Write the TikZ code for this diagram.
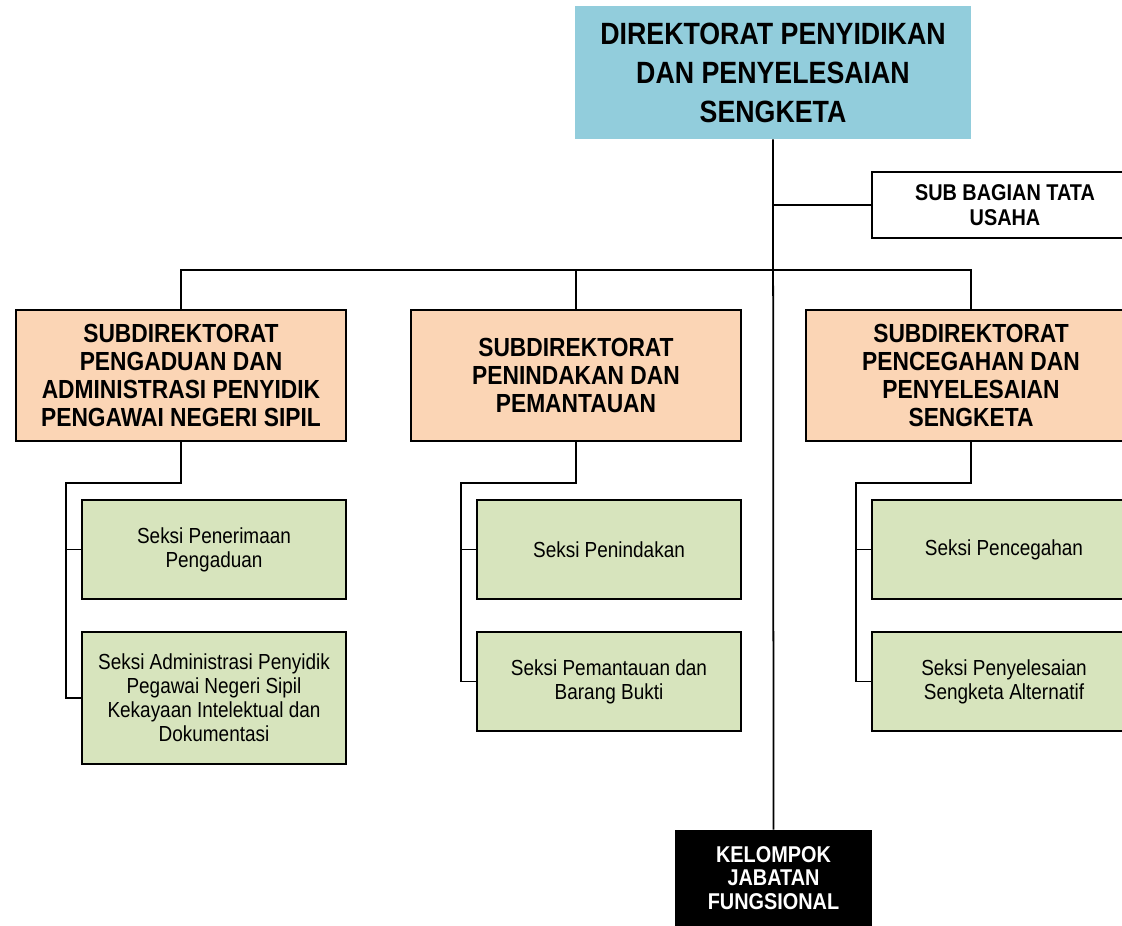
\documentclass[tikz,border=0pt]{standalone}
\usepackage{fontspec}
\setmainfont{Liberation Sans}[FakeStretch=0.87]
\usepackage{tikz}
\usetikzlibrary{positioning}
\definecolor{dirblue}{HTML}{92CDDC}
\definecolor{subpeach}{HTML}{FBD5B5}
\definecolor{sekgreen}{HTML}{D7E4BD}
\tikzstyle{dirblock}=[rectangle, align=center, fill=dirblue, minimum width=79.2mm, minimum height=26.6mm, font=\fontsize{17.5}{22.2}\selectfont\bfseries]
\tikzstyle{tublock}=[rectangle, draw, align=center, fill=white, line width=1pt, minimum width=53.2mm, minimum height=13.2mm, font=\fontsize{13}{14}\selectfont\bfseries]
\tikzstyle{subblock}=[rectangle, draw, align=center, fill=subpeach, line width=1pt, minimum width=66mm, minimum height=26.2mm, font=\fontsize{14.9}{16}\selectfont\bfseries]
\tikzstyle{sekblock}=[rectangle, draw, align=center, fill=sekgreen, line width=1pt, minimum width=52.8mm, minimum height=19.8mm, font=\fontsize{12.4}{13.6}\selectfont]
\tikzstyle{blackblock}=[rectangle, align=center, fill=black, text=white, minimum width=39.4mm, minimum height=19.2mm, font=\fontsize{13}{13.2}\selectfont\bfseries]
\tikzstyle{link}=[line width=1pt]

\begin{document}
\begin{tikzpicture}
\clip (0,0) rectangle (22.44,-18.5);

\node[dirblock] (dir) at (15.46,-1.45) {DIREKTORAT PENYIDIKAN\\DAN PENYELESAIAN\\SENGKETA};
\node[tublock] (tu) at (20.1,-4.1) {SUB BAGIAN TATA\\USAHA};
\node[subblock] (sd1) at (3.62,-7.51) {SUBDIREKTORAT\\PENGADUAN DAN\\ADMINISTRASI PENYIDIK\\PENGAWAI NEGERI SIPIL};
\node[subblock] (sd2) at (11.52,-7.51) {SUBDIREKTORAT\\PENINDAKAN DAN\\PEMANTAUAN};
\node[subblock] (sd3) at (19.42,-7.51) {SUBDIREKTORAT\\PENCEGAHAN DAN\\PENYELESAIAN\\SENGKETA};
\node[sekblock] (s11) at (4.28,-10.99) {Seksi Penerimaan\\Pengaduan};
\node[sekblock, minimum height=26.4mm] (s12) at (4.28,-13.96) {Seksi Administrasi Penyidik\\Pegawai Negeri Sipil\\Kekayaan Intelektual dan\\Dokumentasi};
\node[sekblock] (s21) at (12.18,-10.99) {Seksi Penindakan};
\node[sekblock] (s22) at (12.18,-13.63) {Seksi Pemantauan dan\\Barang Bukti};
\node[sekblock] (s31) at (20.08,-10.99) {Seksi Pencegahan};
\node[sekblock] (s32) at (20.08,-13.63) {Seksi Penyelesaian\\Sengketa Alternatif};
\node[blackblock] (kjf) at (15.47,-17.56) {KELOMPOK\\JABATAN\\FUNGSIONAL};

\coordinate (bus) at (0,-5.4);
\coordinate (t1) at (1.32,-9.66);
\coordinate (t2) at (9.22,-9.66);
\coordinate (t3) at (17.12,-9.66);

\draw[link] (dir.south) -- (kjf.north);
\draw[link] (dir.south |- tu.west) -- (tu.west);
\draw[link] (sd1.north) |- (sd2.north |- bus) -| (sd3.north);
\draw[link] (sd2.north) -- (sd2.north |- bus);

\draw[link] (sd1.south) |- (t1) |- (s12.west);
\draw[link] (t1 |- s11.west) -- (s11.west);
\draw[link] (sd2.south) |- (t2) |- (s22.west);
\draw[link] (t2 |- s21.west) -- (s21.west);
\draw[link] (sd3.south) |- (t3) |- (s32.west);
\draw[link] (t3 |- s31.west) -- (s31.west);

\end{tikzpicture}
\end{document}
